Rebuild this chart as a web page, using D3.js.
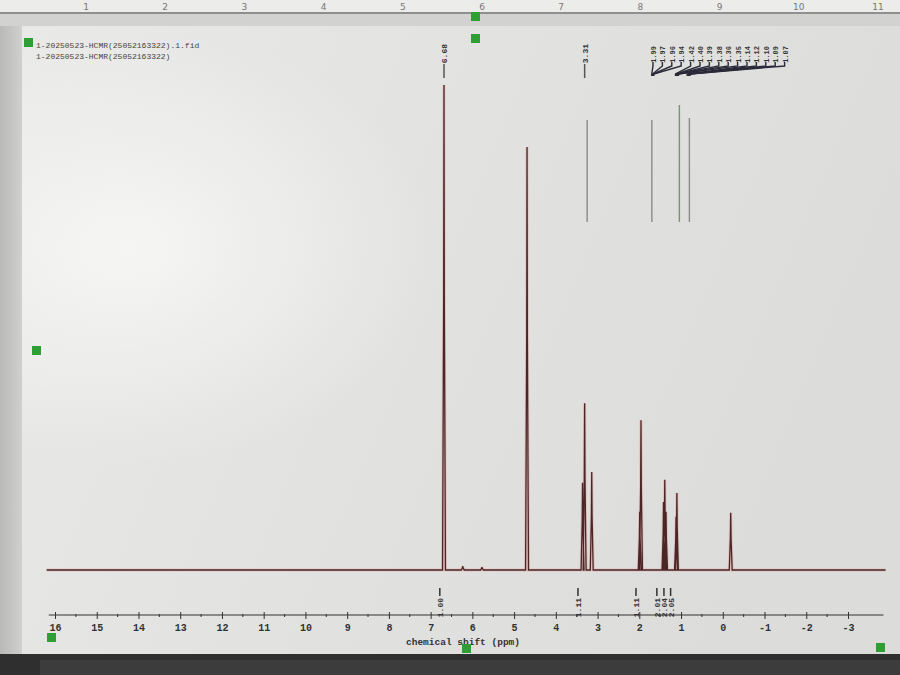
<!DOCTYPE html>
<html><head><meta charset="utf-8">
<script src="https://cdn.jsdelivr.net/npm/d3@7"></script>
<style>html,body{margin:0;padding:0;background:#d6d6d4;}svg{display:block;}</style>
</head><body>
<svg id="c" width="900" height="675"></svg>
<script>
// ---- data ----
const titleLines = ["1-20250523-HCMR(25052163322).1.fid", "1-20250523-HCMR(25052163322)"];
const axisTicks = [16,15,14,13,12,11,10,9,8,7,6,5,4,3,2,1,0,-1,-2,-3];
const axisTitle = "chemical shift (ppm)";
// peak positions (ppm) and relative intensities (0-100)
const peakPpm    = [6.68, 6.23, 5.77, 4.69, 3.36, 3.31, 3.14, 1.99, 1.96, 1.42, 1.39, 1.36, 1.12, 1.10, -0.19];
const peakHeight = [100,  0.8,  0.6,  87.2, 18.0, 34.4, 20.2, 12.0, 30.9, 14.0, 18.6, 12.0, 11.0, 15.9, 11.8];
// integral label positions (ppm) and values
const integralPpm   = [6.78, 3.47, 2.08, 1.58, 1.41, 1.25];
const integralValue = ["1.00", "1.11", "1.11", "2.01", "2.04", "2.05"];
// peak picking labels
const pickSingle = ["6.68", "3.31"];
const pickSinglePpm = [6.68, 3.31];
const pickCluster = ["1.99","1.97","1.96","1.94","1.42","1.40","1.39","1.38","1.36","1.35","1.14","1.12","1.10","1.09","1.07"];
const pickClusterPpm = [1.99,1.97,1.96,1.94,1.42,1.40,1.39,1.38,1.36,1.35,1.14,1.12,1.10,1.09,1.07];
const rulerNums = [1,2,3,4,5,6,7,8,9,10,11];

const svg = d3.select("#c");
const defs = svg.append("defs");
const g1 = defs.append("linearGradient").attr("id","bg").attr("x1","0").attr("y1","0").attr("x2","1").attr("y2","0.3");
g1.append("stop").attr("offset","0").attr("stop-color","#e9e9e7");
g1.append("stop").attr("offset","0.35").attr("stop-color","#e4e4e2");
g1.append("stop").attr("offset","1").attr("stop-color","#dcdcda");
const g2 = defs.append("radialGradient").attr("id","glare").attr("cx","0.12").attr("cy","0.35").attr("r","0.35");
g2.append("stop").attr("offset","0").attr("stop-color","#f7f7f6").attr("stop-opacity","0.9");
g2.append("stop").attr("offset","1").attr("stop-color","#f7f7f6").attr("stop-opacity","0");
const g3 = defs.append("linearGradient").attr("id","left").attr("x1","0").attr("x2","1");
g3.append("stop").attr("offset","0").attr("stop-color","#b9b9b7");
g3.append("stop").attr("offset","1").attr("stop-color","#d0d0ce");

// screen frame
svg.append("rect").attr("width",900).attr("height",675).attr("fill","#cfcfcd");
svg.append("rect").attr("x",0).attr("y",0).attr("width",900).attr("height",12).attr("fill","#ececea");
svg.append("rect").attr("x",0).attr("y",12).attr("width",900).attr("height",2).attr("fill","#8f8f8f");
svg.append("rect").attr("x",0).attr("y",14).attr("width",900).attr("height",12).attr("fill","#d2d2d0");
svg.selectAll("text.ruler").data(rulerNums).join("text").attr("class","ruler")
  .attr("x",(d,i)=>86+i*79.2).attr("y",10).attr("text-anchor","middle")
  .attr("font-family","DejaVu Sans").attr("font-size",9).attr("fill","#777").text(d=>d);
svg.append("rect").attr("x",0).attr("y",26).attr("width",22).attr("height",630).attr("fill","url(#left)");
svg.append("rect").attr("x",22).attr("y",26).attr("width",878).attr("height",630).attr("fill","url(#bg)");
svg.append("rect").attr("x",22).attr("y",26).attr("width",878).attr("height",630).attr("fill","url(#glare)");
svg.append("rect").attr("x",0).attr("y",654).attr("width",900).attr("height",21).attr("fill","#2f2f2f");
svg.append("rect").attr("x",40).attr("y",660).attr("width",860).attr("height",15).attr("fill","#3c3c3c");

// scales
const x = d3.scaleLinear().domain([16,-3]).range([55,848]);
const y = d3.scaleLinear().domain([0,100]).range([570,85]);

// spectrum line: baseline with narrow peaks
const pts = [[16.2,0]];
const order = d3.range(peakPpm.length).sort((a,b)=>peakPpm[b]-peakPpm[a]);
order.forEach(i=>{
  const p = peakPpm[i], h = peakHeight[i];
  pts.push([p+0.035,0],[p+0.008,h*0.55],[p,h],[p-0.008,h*0.55],[p-0.035,0]);
});
pts.push([-3.9,0]);
const line = d3.line().x(d=>x(d[0])).y(d=>y(d[1]));
svg.append("path").datum(pts).attr("d",line).attr("fill","none")
  .attr("stroke","#e2a0a0").attr("stroke-width",3).attr("stroke-opacity",0.5);
svg.append("path").datum(pts).attr("d",line).attr("fill","none")
  .attr("stroke","#4a2626").attr("stroke-width",1.3);

// axis
const axisY = 615;
const ax = d3.axisBottom(x).tickValues(axisTicks).tickSize(4).tickFormat(d=>String(d));
const axG = svg.append("g").attr("transform",`translate(0,${axisY})`).call(ax);
axG.select(".domain").attr("stroke","#333").attr("stroke-width",1.2).attr("d",`M${x(16.15)},0H${x(-3.85)}`);
axG.selectAll(".tick line").attr("stroke","#333").attr("y1",-3).attr("y2",4);
axG.selectAll(".tick text").attr("font-family","Liberation Mono").attr("font-weight","bold")
  .attr("font-size",10).attr("fill","#333").attr("dy","0.9em");
const minor = d3.range(15.5,-3.5,-1);
axG.selectAll("line.minor").data(minor).join("line").attr("class","minor")
  .attr("x1",d=>x(d)).attr("x2",d=>x(d)).attr("y1",-1).attr("y2",2).attr("stroke","#333");
svg.append("text").attr("x",463).attr("y",645).attr("text-anchor","middle")
  .attr("font-family","Liberation Mono").attr("font-weight","bold").attr("font-size",9.5).attr("fill","#333")
  .text(axisTitle);

// integrals below baseline
integralPpm.forEach((p,i)=>{
  const gx = x(p);
  svg.append("line").attr("x1",gx).attr("x2",gx).attr("y1",588).attr("y2",596).attr("stroke","#333").attr("stroke-width",1.5);
  svg.append("text").attr("transform",`translate(${gx+3},598) rotate(-90)`)
    .attr("text-anchor","end").attr("font-family","Liberation Mono").attr("font-weight","bold")
    .attr("font-size",8).attr("fill","#333").text(integralValue[i]);
});

// peak picking labels at top
pickSingle.forEach((t,i)=>{
  const px = x(pickSinglePpm[i]);
  svg.append("text").attr("transform",`translate(${px+3},44) rotate(-90)`)
    .attr("text-anchor","end").attr("font-family","Liberation Mono").attr("font-weight","bold")
    .attr("font-size",8).attr("fill","#333").text(t);
  svg.append("line").attr("x1",px).attr("x2",px).attr("y1",64).attr("y2",78).attr("stroke","#555").attr("stroke-width",1.5);
});
const cx0 = 653, cstep = 9.4;
pickCluster.forEach((t,i)=>{
  const lx = cx0 + i*cstep;
  svg.append("text").attr("transform",`translate(${lx+3},46) rotate(-90)`)
    .attr("text-anchor","end").attr("font-family","Liberation Mono").attr("font-weight","bold")
    .attr("font-size",7).attr("fill","#333").text(t);
  const tx = x(pickClusterPpm[i]);
  svg.append("path").attr("d",`M${lx},62 L${lx},66 L${tx+12},74 L${tx+12},76`)
    .attr("fill","none").attr("stroke","#2a2a3a").attr("stroke-width",1.4);
});
// faint guide lines
[[3.25,120],[1.70,120],[1.04,105],[0.80,118]].forEach((d,i)=>{
  svg.append("line").attr("x1",x(d[0])).attr("x2",x(d[0])).attr("y1",d[1]).attr("y2",222)
    .attr("stroke", i===2 ? "#6f9a6f" : "#8a8a8a").attr("stroke-width",1.4);
});

// title
titleLines.forEach((t,i)=>{
  svg.append("text").attr("x",36).attr("y",48+i*11).attr("font-family","Liberation Mono")
    .attr("font-size",8).attr("fill","#444").text(t);
});

// selection handles
[[24,38],[471,12],[471,34],[32,346],[47,633],[462,644],[876,643]].forEach(d=>{
  svg.append("rect").attr("x",d[0]).attr("y",d[1]).attr("width",9).attr("height",9).attr("fill","#2f9e35");
});
</script>
</body></html>
